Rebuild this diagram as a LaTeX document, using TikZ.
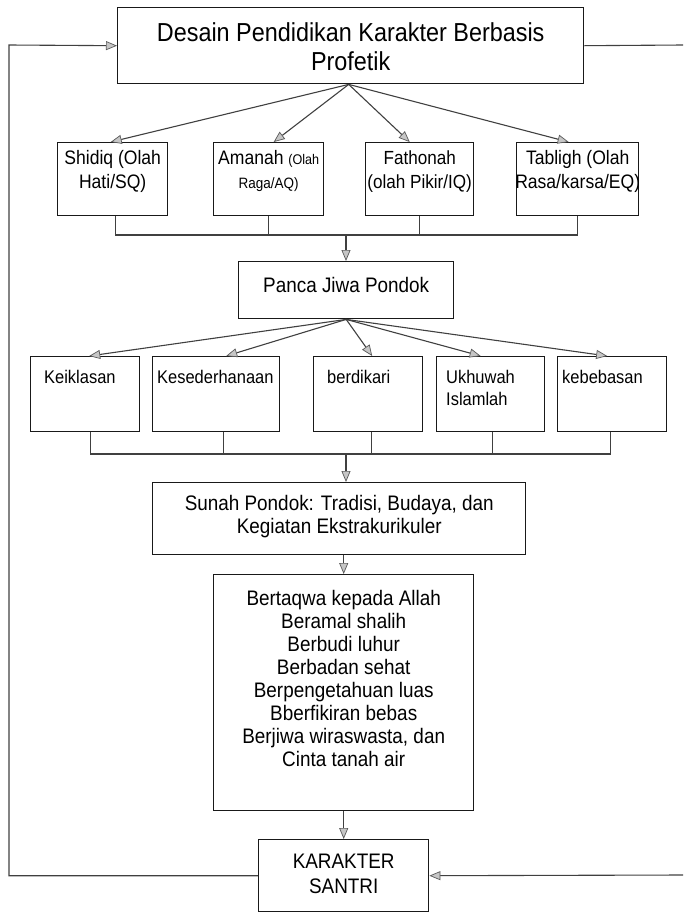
\documentclass[tikz,border=0pt]{standalone}
\usepackage{fontspec}
\setmainfont{Liberation Sans}[FakeStretch=0.9]
\usetikzlibrary{arrows.meta}
\begin{document}
\begin{tikzpicture}[x=1pt,y=-1pt,
  box/.style={draw=black!90, line width=1.4pt, fill=white, inner sep=0pt, anchor=north west},
  conn/.style={draw=black!75, line width=1.1pt},
  arr/.style={conn, -{Triangle[length=11pt,width=9pt,color=black!65,fill=gray!45,line width=0.7pt]}},
  txt/.style={inner sep=0pt, align=center},
  ltxt/.style={inner sep=0pt, align=left, anchor=north west, font=\fontsize{18.3}{22}\selectfont},
]
\useasboundingbox (0,0) rectangle (683,913);

% ---- boxes ----
\node[box, minimum width=466pt, minimum height=76pt] (top) at (117,7) {};
\node[box, minimum width=110pt, minimum height=73pt] (shidiq) at (57,142) {};
\node[box, minimum width=110pt, minimum height=73pt] (amanah) at (213,142) {};
\node[box, minimum width=108pt, minimum height=73pt] (fath) at (365,142) {};
\node[box, minimum width=122pt, minimum height=73pt] (tab) at (516,142) {};
\node[box, minimum width=215pt, minimum height=57pt] (panca) at (238,261) {};
\node[box, minimum width=109pt, minimum height=75pt] (keik) at (30,356) {};
\node[box, minimum width=127pt, minimum height=75pt] (kesed) at (152,356) {};
\node[box, minimum width=109pt, minimum height=75pt] (berd) at (313,356) {};
\node[box, minimum width=108pt, minimum height=75pt] (ukh) at (436,356) {};
\node[box, minimum width=109pt, minimum height=75pt] (kebeb) at (557,356) {};
\node[box, minimum width=373pt, minimum height=72pt] (sunah) at (152,482) {};
\node[box, minimum width=260pt, minimum height=236pt] (bert) at (213,574) {};
\node[box, minimum width=170pt, minimum height=72pt] (kar) at (258,839) {};

% ---- texts ----
\node[txt, font=\fontsize{26}{29}\selectfont] (topT) at ([yshift=-1pt]top.center)
  {Desain Pendidikan Karakter Berbasis\\Profetik};
\node[txt, font=\fontsize{19.5}{24}\selectfont] (shidiqT) at ([yshift=8pt]shidiq.center)
  {Shidiq (Olah\\Hati/SQ)};
\node[txt, font=\fontsize{19.5}{24}\selectfont] (amanahT) at ([yshift=8pt]amanah.center)
  {Amanah {\fontsize{14}{16}\selectfont(Olah}\\{\fontsize{15}{16}\selectfont Raga/AQ)}};
\node[txt, font=\fontsize{19}{24}\selectfont] (fathT) at ([yshift=8pt]fath.center)
  {Fathonah\\(olah Pikir/IQ)};
\node[txt, font=\fontsize{19.5}{24}\selectfont] (tabT) at ([yshift=8pt]tab.center)
  {Tabligh (Olah\\Rasa/karsa/EQ)};
\node[txt, font=\fontsize{21}{24}\selectfont] (pancaT) at ([yshift=5pt]panca.center)
  {Panca Jiwa Pondok};
\node[ltxt] (keikT) at ([xshift=14pt,yshift=-14pt]keik.north west) {Keiklasan};
\node[ltxt] (kesedT) at ([xshift=5pt,yshift=-14pt]kesed.north west) {Kesederhanaan};
\node[ltxt] (berdT) at ([xshift=14pt,yshift=-14pt]berd.north west) {berdikari};
\node[ltxt] (ukhT) at ([xshift=10pt,yshift=-14pt]ukh.north west) {Ukhuwah\\Islamlah};
\node[ltxt] (kebebT) at ([xshift=5pt,yshift=-14pt]kebeb.north west) {kebebasan};
\node[txt, font=\fontsize{21}{23}\selectfont] (sunahT) at ([yshift=2pt]sunah.center)
  {Sunah Pondok: Tradisi, Budaya, dan\\Kegiatan Ekstrakurikuler};
\node[txt, font=\fontsize{21}{23}\selectfont] (bertT) at ([yshift=14pt]bert.center)
  {Bertaqwa kepada Allah\\Beramal shalih\\Berbudi luhur\\Berbadan sehat\\
   Berpengetahuan luas\\Bberfikiran bebas\\Berjiwa wiraswasta, dan\\Cinta tanah air};
\node[txt, font=\fontsize{21}{25}\selectfont] (karT) at ([yshift=2pt]kar.center)
  {KARAKTER\\SANTRI};

% ---- arrows from the top box ----
\draw[arr] ([xshift=-2pt]top.south) -- ([xshift=-2pt]shidiq.north);
\draw[arr] ([xshift=-2pt]top.south) -- ([xshift=5pt]amanah.north);
\draw[arr] ([xshift=-2pt]top.south) -- ([xshift=-10pt]fath.north);
\draw[arr] ([xshift=-2pt]top.south) -- ([xshift=-9pt]tab.north);

% ---- first collecting bus ----
\coordinate (bus1) at (346,235);
\draw[conn] ([xshift=3pt]shidiq.south) |- (tab.south |- bus1) -- (tab.south);
\draw[conn] (amanah.south) -- (amanah.south |- bus1);
\draw[conn] (fath.south) -- (fath.south |- bus1);
\draw[arr] (bus1) -- (bus1 |- panca.north);

% ---- arrows from Panca Jiwa Pondok ----
\draw[arr] (panca.south) -- ([xshift=4pt]keik.north);
\draw[arr] (panca.south) -- ([xshift=10pt]kesed.north);
\draw[arr] (panca.south) -- ([xshift=4pt]berd.north);
\draw[arr] (panca.south) -- ([xshift=-10pt]ukh.north);
\draw[arr] (panca.south) -- ([xshift=-5pt]kebeb.north);

% ---- second collecting bus ----
\coordinate (bus2) at (346,454);
\draw[conn] ([xshift=5pt]keik.south) |- ([xshift=-2pt]kebeb.south |- bus2) -- ([xshift=-2pt]kebeb.south);
\draw[conn] ([xshift=7pt]kesed.south) -- ([xshift=7pt]kesed.south |- bus2);
\draw[conn] ([xshift=3pt]berd.south) -- ([xshift=3pt]berd.south |- bus2);
\draw[conn] ([xshift=2pt]ukh.south) -- ([xshift=2pt]ukh.south |- bus2);
\draw[arr] (bus2) -- (bus2 |- sunah.north);

% ---- vertical chain ----
\draw[arr] (sunah.south -| bert.north) -- (bert.north);
\draw[arr] (bert.south) -- (kar.north);

% ---- feedback loops ----
\coordinate (fbL) at (9,45);
\coordinate (fbR1) at (683,45);
\coordinate (fbR2) at (683,875);
\draw[arr] (kar.west) -| (fbL) -- (top.west);
\draw[conn] (top.east) -- (fbR1);
\draw[arr] (fbR2) -- (kar.east);
\end{tikzpicture}
\end{document}
